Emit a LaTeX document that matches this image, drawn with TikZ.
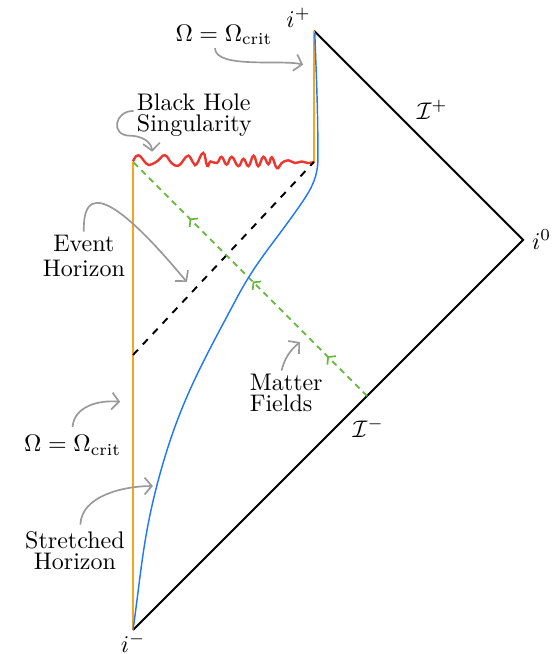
\documentclass[tikz,border=0pt]{standalone}
\usepackage{amsmath,amssymb}
\usetikzlibrary{arrows.meta,calc,decorations.markings,decorations.pathmorphing}

\definecolor{horizonorange}{RGB}{247,165,30}
\definecolor{stretchblue}{RGB}{30,120,250}
\definecolor{fieldgreen}{RGB}{100,185,55}
\definecolor{singred}{RGB}{235,55,45}

\tikzset{
    lbl/.style={inner sep=1pt, font=\fontsize{10}{8.8}\selectfont, align=center},
    note/.style={draw=black!40, line width=0.7pt, -{Straight Barb[length=3pt,width=7pt]}},
    fieldline/.style={draw=fieldgreen, line width=0.7pt, dash pattern=on 2.5pt off 2pt,
        postaction=decorate, decoration={markings,
            mark=at position 0.17 with {\arrow{Straight Barb[length=2pt,width=5pt]}},
            mark=at position 0.49 with {\arrow{Straight Barb[length=2pt,width=5pt]}},
            mark=at position 0.76 with {\arrow{Straight Barb[length=2pt,width=5pt]}}}}
}

\begin{document}
\begin{tikzpicture}[>=Stealth, thick, scale=0.5712]
    \useasboundingbox (-3.41,-0.615) rectangle (10.87,16.15);

    % Corners of the diagram
    \coordinate (im) at (0,0);
    \coordinate (i0) at (10,10);
    \coordinate (ip) at (4.64,15.36);
    \coordinate (sl) at (0,12);
    \coordinate (sr) at (4.64,12);
    \coordinate (eh) at (0,7.05);
    \coordinate (mf) at (6,6);

    % Null infinity
    \draw (ip) -- (i0) -- (im);

    % Omega = Omega_crit surfaces
    \draw[horizonorange, line width=1.2pt] (im) -- (sl);
    \draw[horizonorange, line width=1.2pt] (sr) -- (ip);

    % Singularity
    \draw[singred, line width=1pt] plot[smooth, tension=0.8] coordinates {
        (0,12.01) (0.14,12.17) (0.35,11.95) (0.48,11.94) (0.65,12.04) (0.82,12.17)
        (0.99,11.97) (1.16,11.90) (1.29,12.04) (1.42,12.16) (1.55,11.97) (1.63,11.94)
        (1.80,12.23) (1.90,11.90) (1.99,12.01) (2.15,11.97) (2.27,12.13) (2.40,11.93)
        (2.53,12.13) (2.70,11.89) (2.83,12.08) (2.96,11.89) (3.09,12.16) (3.21,11.89)
        (3.34,12.13) (3.47,11.94) (3.56,12.12) (3.69,11.84) (3.81,11.97) (3.98,12.04)
        (4.15,11.97) (4.32,12.01) (4.49,11.97) (4.64,12.0)};

    % Event horizon
    \draw[dashed] (eh) -- (sr);

    % Infalling matter
    \draw[fieldline] (mf) -- (sl);

    % Stretched horizon
    \draw[stretchblue, line width=0.6pt] (im) to[out=82, in=-105] (0.65,3.85)
        to[out=75, in=-118] (2.66,8.51) to[out=62, in=-125] (4.2,10.77)
        to[out=55, in=-90] (4.74,12.1) to[out=90, in=-88] (4.66,15.3);

    % Points at infinity
    \node[above left, inner sep=1pt] (ipl) at (ip) {$i^+$};
    \node[right] (i0l) at (i0) {$i^0$};
    \node[below, inner sep=1pt] (iml) at (im) {$i^-$};
    \node (scrp) at (7.67,13.33) {$\mathcal{I}^+$};
    \node (scrm) at (6.03,5.18) {$\mathcal{I}^-$};

    % Labels
    \node[lbl] (omtop) at (2.33,15.26) {$\Omega = \Omega_{\text{crit}}$};
    \node[lbl, anchor=west, align=left] (bhs) at (0.015,13.2) {Black Hole\\Singularity};
    \node[lbl, font=\fontsize{10}{10.5}\selectfont] (evh) at (-1.26,9.59) {Event\\Horizon};
    \node[lbl, anchor=west, align=left] (mfl) at (2.91,6.08) {Matter\\Fields};
    \node[lbl] (omleft) at (-1.55,4.74) {$\Omega = \Omega_{\text{crit}}$};
    \node[lbl] (sth) at (-1.49,2.03) {Stretched\\Horizon};

    % Arrow targets
    \coordinate (tA) at (4.36,14.49);
    \coordinate (bhbend) at (-0.08,12.67);
    \coordinate (tB) at (0.49,12.26);
    \coordinate (tC) at (1.38,8.92);
    \coordinate (tD) at (4.28,7.38);
    \coordinate (tE) at (-0.33,5.85);
    \coordinate (tF) at (0.51,3.69);

    % Pointers
    \draw[note] ([xshift=-6.5pt]omtop.south) to[out=-90, in=165, looseness=0.6] (tA);
    \draw[note] ([yshift=3pt]bhs.west) to[out=180, in=180, looseness=2] (bhbend)
        to[out=0, in=95] (tB);
    \draw[note] (evh.north) .. controls (-1.31,11.85) and (0.10,10.46) .. (tC);
    \draw[note] ([xshift=-3.5pt]mfl.north) to[out=75, in=220] (tD);
    \draw[note] ([yshift=3.5pt]omleft.north) to[out=85, in=175] (tE);
    \draw[note] ([xshift=4pt, yshift=2.7pt]sth.north) to[out=88, in=180, looseness=0.9] (tF);
\end{tikzpicture}
\end{document}
